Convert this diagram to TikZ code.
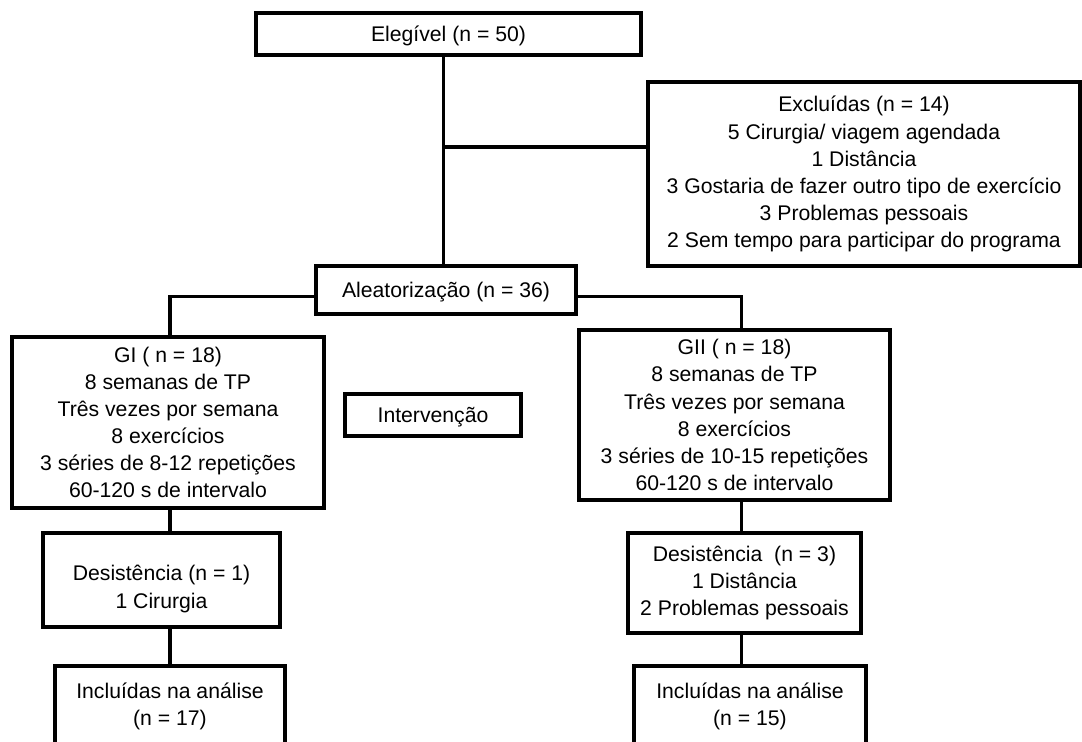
\documentclass[tikz,border=0pt]{standalone}
\usepackage{fontspec}
\setmainfont{Liberation Sans}
\usetikzlibrary{positioning}
\tikzstyle{box} = [rectangle, draw=black, line width=2.3pt, align=center, text centered, inner sep=0pt, font=\fontsize{15.9}{20.3}\selectfont]
\tikzstyle{link} = [line width=2.3pt]

\begin{document}
\begin{tikzpicture}[x=0.75pt, y=-0.75pt]
\useasboundingbox (0,0) rectangle (1082,742);
\clip (0,0) rectangle (1082,742);

\node (elig) [box, minimum width=288.75pt, minimum height=31.5pt] at (448.5,34) {\rule{0pt}{14pt}Elegível (n = 50)};
\node (excl) [box, minimum width=324pt, minimum height=138pt] at (864,174) {Excluídas (n = 14)\\5 Cirurgia/ viagem agendada\\1 Distância\\3 Gostaria de fazer outro tipo de exercício\\3 Problemas pessoais\\2 Sem tempo para participar do programa};
\node (aleat) [box, minimum width=195pt, minimum height=36pt] at (446,290) {\rule{0pt}{14pt}Aleatorização (n = 36)};
\node (gi) [box, minimum width=234pt, minimum height=128.25pt] at (168,422.5) {GI ( n = 18)\\8 semanas de TP\\Três vezes por semana\\8 exercícios\\3 séries de 8-12 repetições\\60-120 s de intervalo};
\node (interv) [box, minimum width=132pt, minimum height=31.5pt] at (433,415) {\rule{0pt}{14pt}Intervenção};
\node (gii) [box, minimum width=233.25pt, minimum height=127.5pt] at (734.5,415) {GII ( n = 18)\\8 semanas de TP\\Três vezes por semana\\8 exercícios\\3 séries de 10-15 repetições\\60-120 s de intervalo};
\node (desi) [box, minimum width=177.75pt, minimum height=70.5pt] at (161.5,580) {\rule{0pt}{25pt}Desistência (n = 1)\\1 Cirurgia};
\node (desii) [box, minimum width=174.75pt, minimum height=75pt] at (744.5,583) {Desistência\ \ (n = 3)\\1 Distância\\2 Problemas pessoais};
\node (inci) [box, minimum width=172.5pt, minimum height=60.75pt] at (170,706.5) {Incluídas na análise\\(n = 17)};
\node (incii) [box, minimum width=174pt, minimum height=60.75pt] at (750,706.5) {Incluídas na análise\\(n = 15)};

\coordinate (jn) at (443,147);

\draw [link] ([xshift=-4.1pt]elig.south) -- ([xshift=-4.1pt]elig.south |- aleat.north);
\draw [link] (jn) -- (jn -| excl.west);

\draw [link] ([yshift=-5.2pt]aleat.west) -| ([xshift=1.5pt]gi.north);
\draw [link] ([yshift=-5.2pt]aleat.east) -| ([xshift=4.9pt]gii.north);

\draw [link] ([xshift=1.5pt]gi.south) -- ([xshift=1.5pt]gi.south |- desi.north);
\draw [link] ([xshift=1.5pt]gi.south |- desi.south) -- ([xshift=1.5pt]gi.south |- inci.north);

\draw [link] ([xshift=4.9pt]gii.south) -- ([xshift=4.9pt]gii.south |- desii.north);
\draw [link] ([xshift=4.9pt]gii.south |- desii.south) -- ([xshift=4.9pt]gii.south |- incii.north);

\end{tikzpicture}
\end{document}
